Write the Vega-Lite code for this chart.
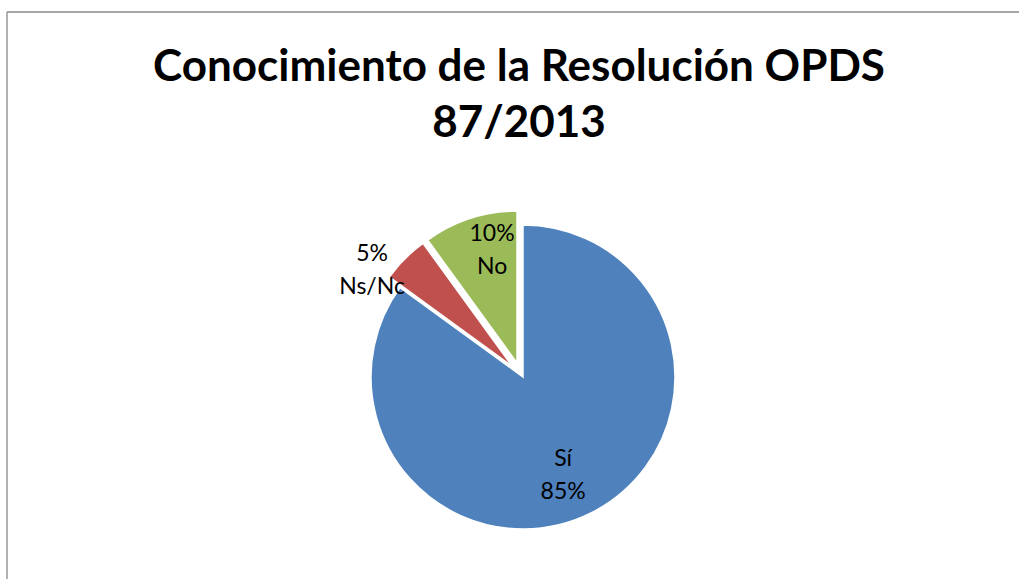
{
  "$schema": "https://vega.github.io/schema/vega-lite/v6.json",
  "autosize": {"type": "none"},
  "padding": {"left": 7, "top": 12, "right": 0, "bottom": 0},
  "width": 1012,
  "height": 567,
  "background": "#ffffff",
  "config": {
    "view": {"stroke": null},
    "font": "Lato"
  },
  "title": {
    "text": ["Conocimiento de la Resolución OPDS", "87/2013"],
    "anchor": "middle",
    "font": "Lato",
    "fontWeight": "bold",
    "fontSize": 44,
    "lineHeight": 56,
    "color": "#000000",
    "offset": -135,
    "dx": 6
  },
  "layer": [
    {
      "data": {"values": [{"frame": "top edge"}]},
      "mark": {"type": "rule", "stroke": "#888888", "strokeWidth": 1.3},
      "encoding": {"y": {"value": 0}}
    },
    {
      "data": {"values": [{"frame": "left edge"}]},
      "mark": {"type": "rule", "stroke": "#888888", "strokeWidth": 1.3},
      "encoding": {"x": {"value": 0}}
    },
    {
      "data": {
        "values": [
          {"category": "Sí", "value": 85, "rank": 1, "label": "Sí\n85%"},
          {"category": "Ns/Nc", "value": 5, "rank": 2, "label": "5%\nNs/Nc"},
          {"category": "No", "value": 10, "rank": 3, "label": "10%\nNo"}
        ]
      },
      "encoding": {
        "theta": {"field": "value", "type": "quantitative", "stack": true},
        "order": {"field": "rank", "type": "quantitative"},
        "color": {
          "field": "category",
          "type": "nominal",
          "scale": {"domain": ["Sí", "Ns/Nc", "No"], "range": ["#4F81BD", "#C0504D", "#9BBB59"]},
          "legend": null
        }
      },
      "layer": [
        {
          "mark": {"type": "arc", "outerRadius": 152, "x": 516, "y": 365, "stroke": "#ffffff", "strokeWidth": 1.5},
          "encoding": {"opacity": {"condition": {"test": "datum.category === 'Sí'", "value": 1}, "value": 0}}
        },
        {
          "mark": {"type": "arc", "outerRadius": 152, "x": 505.3, "y": 354.3, "stroke": "#ffffff", "strokeWidth": 1.5},
          "encoding": {"opacity": {"condition": {"test": "datum.category === 'Ns/Nc'", "value": 1}, "value": 0}}
        },
        {
          "mark": {"type": "arc", "outerRadius": 152, "x": 510, "y": 351, "stroke": "#ffffff", "strokeWidth": 1.5},
          "encoding": {"opacity": {"condition": {"test": "datum.category === 'No'", "value": 1}, "value": 0}}
        },
        {
          "mark": {"type": "text", "radius": 109, "thetaOffset": 0.024, "x": 516, "y": 365, "dx": -7, "dy": -16, "fontSize": 23, "lineBreak": "\n", "lineHeight": 33, "baseline": "middle", "align": "center"},
          "encoding": {
            "text": {"field": "label"},
            "color": {"value": "#000000"},
            "opacity": {"condition": {"test": "datum.category === 'Sí'", "value": 1}, "value": 0}
          }
        },
        {
          "mark": {"type": "text", "radius": 173, "thetaOffset": -0.17, "x": 505.3, "y": 354.3, "dx": 1, "dy": -12, "fontSize": 23, "lineBreak": "\n", "lineHeight": 33, "baseline": "middle", "align": "center"},
          "encoding": {
            "text": {"field": "label"},
            "color": {"value": "#000000"},
            "opacity": {"condition": {"test": "datum.category === 'Ns/Nc'", "value": 1}, "value": 0}
          }
        },
        {
          "mark": {"type": "text", "radius": 116, "thetaOffset": 0.115, "x": 510, "y": 351, "dx": -2, "dy": -15, "fontSize": 23, "lineBreak": "\n", "lineHeight": 33, "baseline": "middle", "align": "center"},
          "encoding": {
            "text": {"field": "label"},
            "color": {"value": "#000000"},
            "opacity": {"condition": {"test": "datum.category === 'No'", "value": 1}, "value": 0}
          }
        }
      ]
    }
  ]
}
